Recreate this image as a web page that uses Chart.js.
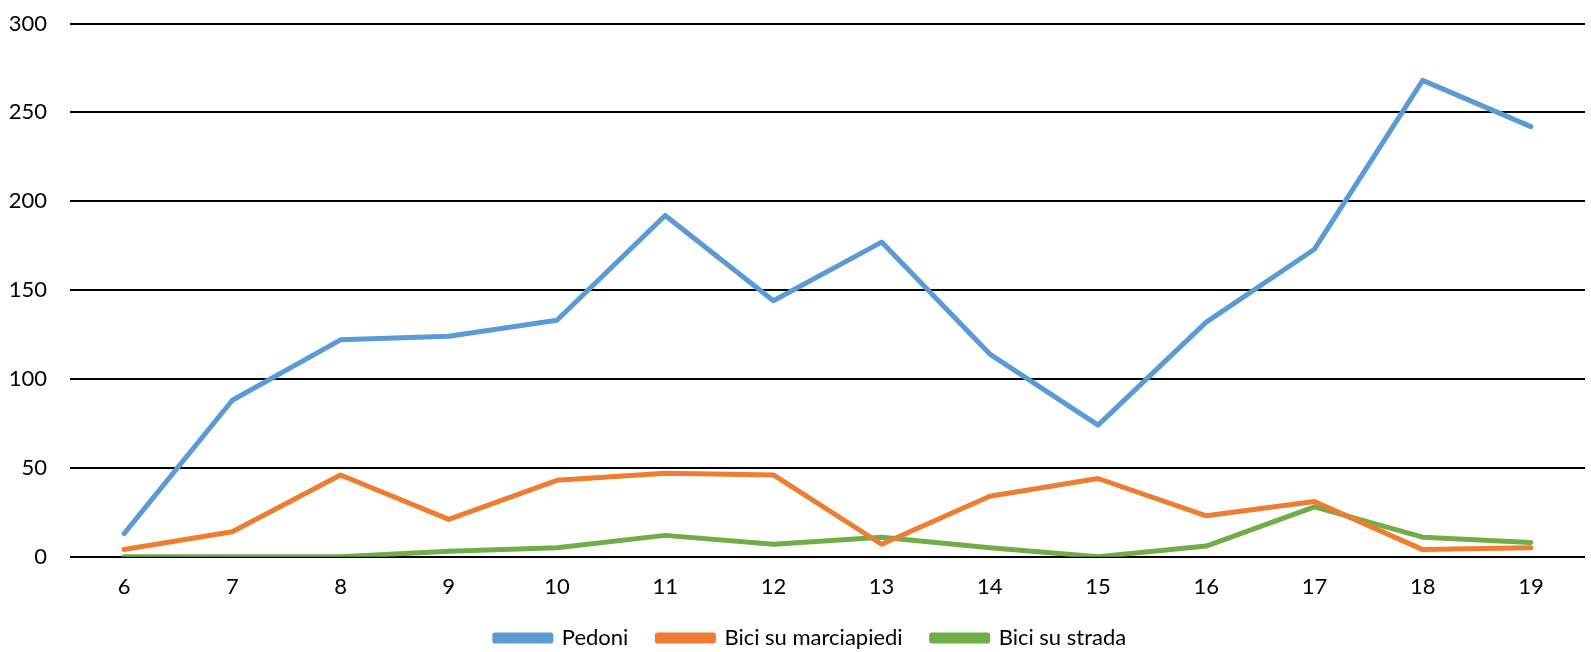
<!DOCTYPE html>
<html>
<head>
<meta charset="utf-8">
<script src="https://cdn.jsdelivr.net/npm/chart.js@4/dist/chart.umd.min.js"></script>
<style>
  html, body { margin: 0; padding: 0; background: #fff; }
  #wrap { width: 1591px; height: 652px; position: relative; }
</style>
</head>
<body>
<div id="wrap"><canvas id="c"></canvas></div>
<script>
const categories = ['6','7','8','9','10','11','12','13','14','15','16','17','18','19'];
const pedoni = [13, 88, 122, 124, 133, 192, 144, 177, 114, 74, 132, 173, 268, 242];
const biciMarciapiedi = [4, 14, 46, 21, 43, 47, 46, 7, 34, 44, 23, 31, 4, 5];
const biciStrada = [0, 0, 0, 3, 5, 12, 7, 11, 5, 0, 6, 28, 11, 8];
const seriesNames = ['Pedoni', 'Bici su marciapiedi', 'Bici su strada'];
const yTicks = [0, 50, 100, 150, 200, 250, 300];

const colors = ['#5B9BD5', '#ED7D31', '#70AD47'];
const FONT = 'Lato, "Open Sans", sans-serif';

function ds(label, data, color) {
  return {
    label, data,
    borderColor: color, backgroundColor: color,
    borderWidth: 5, pointRadius: 0, pointHoverRadius: 0,
    tension: 0, borderCapStyle: 'round', borderJoinStyle: 'round', fill: false
  };
}

const legendShift = {
  id: 'legendShift',
  afterLayout(chart) {
    if (chart.legend) { chart.legend.left += 18; chart.legend.right += 18; }
  }
};

new Chart(document.getElementById('c'), {
  type: 'line',
  data: {
    labels: categories,
    datasets: [
      ds(seriesNames[0], pedoni, colors[0]),
      ds(seriesNames[1], biciMarciapiedi, colors[1]),
      ds(seriesNames[2], biciStrada, colors[2])
    ]
  },
  plugins: [legendShift],
  options: {
    responsive: true,
    maintainAspectRatio: false,
    animation: false,
    layout: { padding: { top: 23.5, right: 6, left: 0, bottom: 0 } },
    plugins: {
      tooltip: { enabled: false },
      legend: {
        position: 'bottom',
        maxHeight: 54,
        labels: {
          font: { family: FONT, size: 22 },
          color: '#000',
          boxWidth: 56,
          boxHeight: 6,
          padding: 29
        }
      }
    },
    scales: {
      x: {
        offset: true,
        afterFit: s => { s.height = 41.3; },
        grid: { display: false, drawTicks: false },
        border: { display: false },
        ticks: { font: { family: FONT, size: 22 }, color: '#000', padding: 17, maxRotation: 0 }
      },
      y: {
        min: 0, max: 300,
        afterBuildTicks: s => { s.ticks = yTicks.map(v => ({ value: v })); },
        afterFit: s => { s.width = 70; s.paddingTop = 0; s.paddingBottom = 0; },
        grid: { color: '#000', lineWidth: 2, drawTicks: false },
        border: { display: false },
        ticks: { font: { family: FONT, size: 22 }, color: '#000', padding: 23 }
      }
    }
  }
});
</script>
</body>
</html>
